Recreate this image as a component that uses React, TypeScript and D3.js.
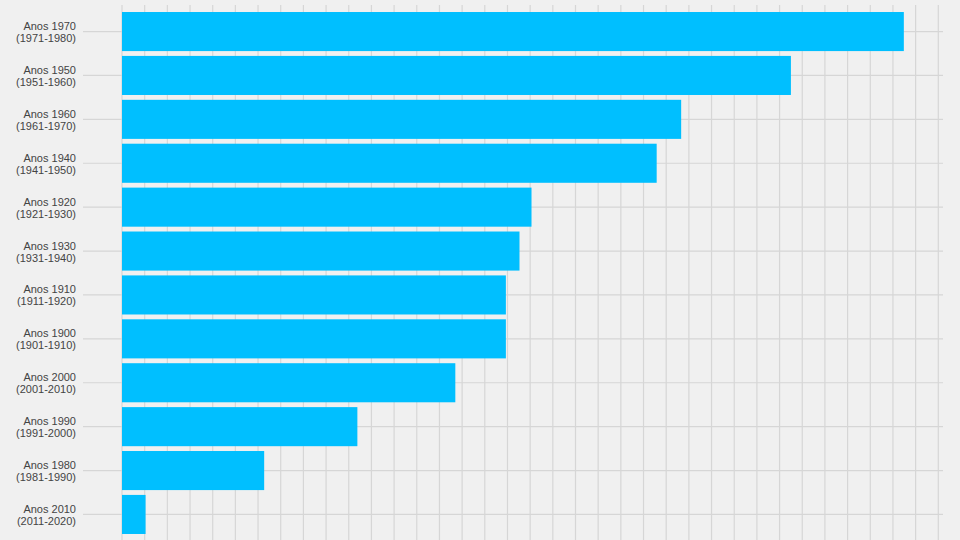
import { useEffect, useRef } from "react";
import * as d3 from "d3";

// Décadas, ordenadas pelo valor
const decades = [
  "Anos 1970", "Anos 1950", "Anos 1960", "Anos 1940", "Anos 1920", "Anos 1930",
  "Anos 1910", "Anos 1900", "Anos 2000", "Anos 1990", "Anos 1980", "Anos 2010",
];
const ranges = [
  "(1971-1980)", "(1951-1960)", "(1961-1970)", "(1941-1950)", "(1921-1930)", "(1931-1940)",
  "(1911-1920)", "(1901-1910)", "(2001-2010)", "(1991-2000)", "(1981-1990)", "(2011-2020)",
];
const values = [34.48, 29.5, 24.66, 23.58, 18.06, 17.53, 16.93, 16.93, 14.7, 10.38, 6.27, 1.04];
const xMax = 36;

export default function App() {
  const ref = useRef<SVGSVGElement | null>(null);

  useEffect(() => {
    if (!ref.current) return;
    const svg = d3.select(ref.current);
    svg.selectAll("*").remove();

    const width = 960;
    const height = 540;

    const x = d3.scaleLinear().domain([0, xMax]).range([122, 938.3]);
    const y = d3.scaleBand<string>()
      .domain(decades)
      .range([9.6, 536.4])
      .paddingInner(0.11)
      .paddingOuter(0.055);

    svg.append("rect")
      .attr("width", width)
      .attr("height", height)
      .attr("fill", "#f0f0f0");

    // Grade vertical
    svg.append("g")
      .selectAll("line")
      .data(d3.range(0, xMax + 1))
      .join("line")
      .attr("x1", d => x(d))
      .attr("x2", d => x(d))
      .attr("y1", 5)
      .attr("y2", height)
      .attr("stroke", "#d6d6d6")
      .attr("stroke-width", 1.2);

    // Grade horizontal no centro de cada barra
    svg.append("g")
      .selectAll("line")
      .data(decades)
      .join("line")
      .attr("x1", 83)
      .attr("x2", 943)
      .attr("y1", d => y(d)! + y.bandwidth() / 2)
      .attr("y2", d => y(d)! + y.bandwidth() / 2)
      .attr("stroke", "#d6d6d6")
      .attr("stroke-width", 1.2);

    // Barras
    svg.append("g")
      .selectAll("rect")
      .data(values)
      .join("rect")
      .attr("x", x(0))
      .attr("y", (_, i) => y(decades[i])!)
      .attr("width", d => x(d) - x(0))
      .attr("height", y.bandwidth())
      .attr("fill", "#00bfff");

    // Rótulos
    const labels = svg.append("g")
      .attr("font-family", "Helvetica, Arial, 'Liberation Sans', sans-serif")
      .attr("font-size", 11)
      .attr("fill", "#444")
      .attr("text-anchor", "end");

    decades.forEach((d, i) => {
      const cy = y(d)! + y.bandwidth() / 2;
      const t = labels.append("text").attr("x", 76);
      t.append("tspan").attr("x", 76).attr("y", cy - 1.5).text(d);
      t.append("tspan").attr("x", 76).attr("y", cy + 10.5).text(ranges[i]);
    });
  }, []);

  return (
    <svg
      ref={ref}
      width={960}
      height={540}
      style={{ position: "absolute", left: 0, top: 0, display: "block" }}
    />
  );
}
